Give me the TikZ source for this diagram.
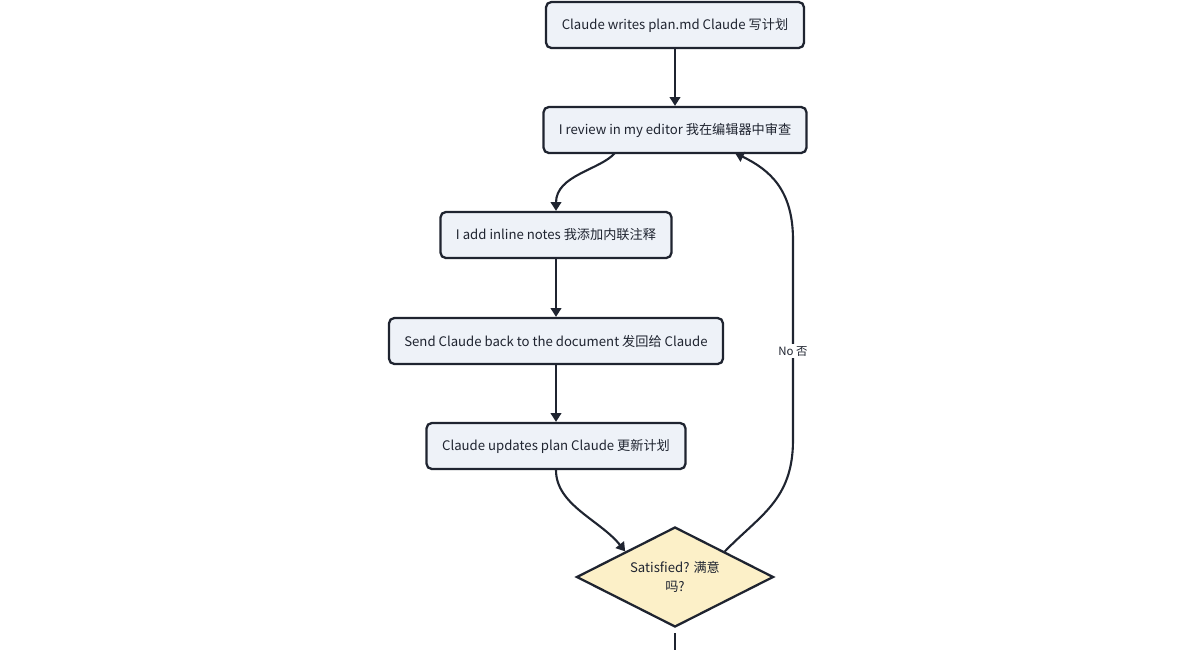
\documentclass[tikz,border=0pt]{standalone}
\usepackage{fontspec}
\setmainfont{Noto Sans CJK SC}
\usetikzlibrary{shapes.geometric,arrows.meta}
\definecolor{boxfill}{HTML}{EEF2F8}
\definecolor{boxline}{HTML}{1F2430}
\definecolor{decfill}{HTML}{FCF0C8}
\begin{document}
\begin{tikzpicture}[x=0.02cm,y=-0.02cm,
  box/.style={draw=boxline,line width=1.3pt,fill=boxfill,rounded corners=3pt,minimum height=0.92cm,inner xsep=0pt,font=\fontsize{7.5pt}{9pt}\selectfont,text=boxline},
  arr/.style={draw=boxline,line width=1.2pt,-{Triangle[length=5pt,width=6pt]}}]
\useasboundingbox (0,0) rectangle (1200,650);
\node[box,minimum width=5.16cm] (b1) at (675,25) {Claude writes plan.md Claude 写计划};
\node[box,minimum width=5.26cm] (b2) at (675,130) {I review in my editor 我在编辑器中审查};
\node[box,minimum width=4.62cm] (b3) at (556,235) {I add inline notes 我添加内联注释};
\node[box,minimum width=6.68cm] (b4) at (556,341) {Send Claude back to the document 发回给 Claude};
\node[box,minimum width=5.18cm] (b5) at (556,446) {Claude updates plan Claude 更新计划};
\node[diamond,draw=boxline,line width=1.3pt,fill=decfill,minimum width=3.94cm,minimum height=2.0cm,inner sep=0pt,aspect=2,font=\fontsize{7.5pt}{11pt}\selectfont,text=boxline,align=center] (d) at (675,577) {Satisfied? 满意\\吗?};
\coordinate (in2) at (735,153);
\coordinate (out2) at (615,153);
\coordinate (end) at (675,650);
\draw[arr] (b1) -- (b2);
\draw[arr] (out2) .. controls (600,170) and (556,175) .. (b3.north);
\draw[arr] (b3) -- (b4);
\draw[arr] (b4) -- (b5);
\draw[arr] (b5.south) .. controls (556,505) and (600,520) .. (d.north west);
\draw[arr] (d.north east) .. controls (760,515) and (793,500) .. (793,440) -- (793,240) .. controls (793,190) and (770,170) .. (in2);
\node[fill=white,font=\fontsize{6.5pt}{8pt}\selectfont,text=boxline,inner sep=1pt] (lab) at (793,351) {No 否};
\draw[draw=boxline,line width=1.2pt] (d.south) ++(0,5) -- (end);
\end{tikzpicture}
\end{document}
